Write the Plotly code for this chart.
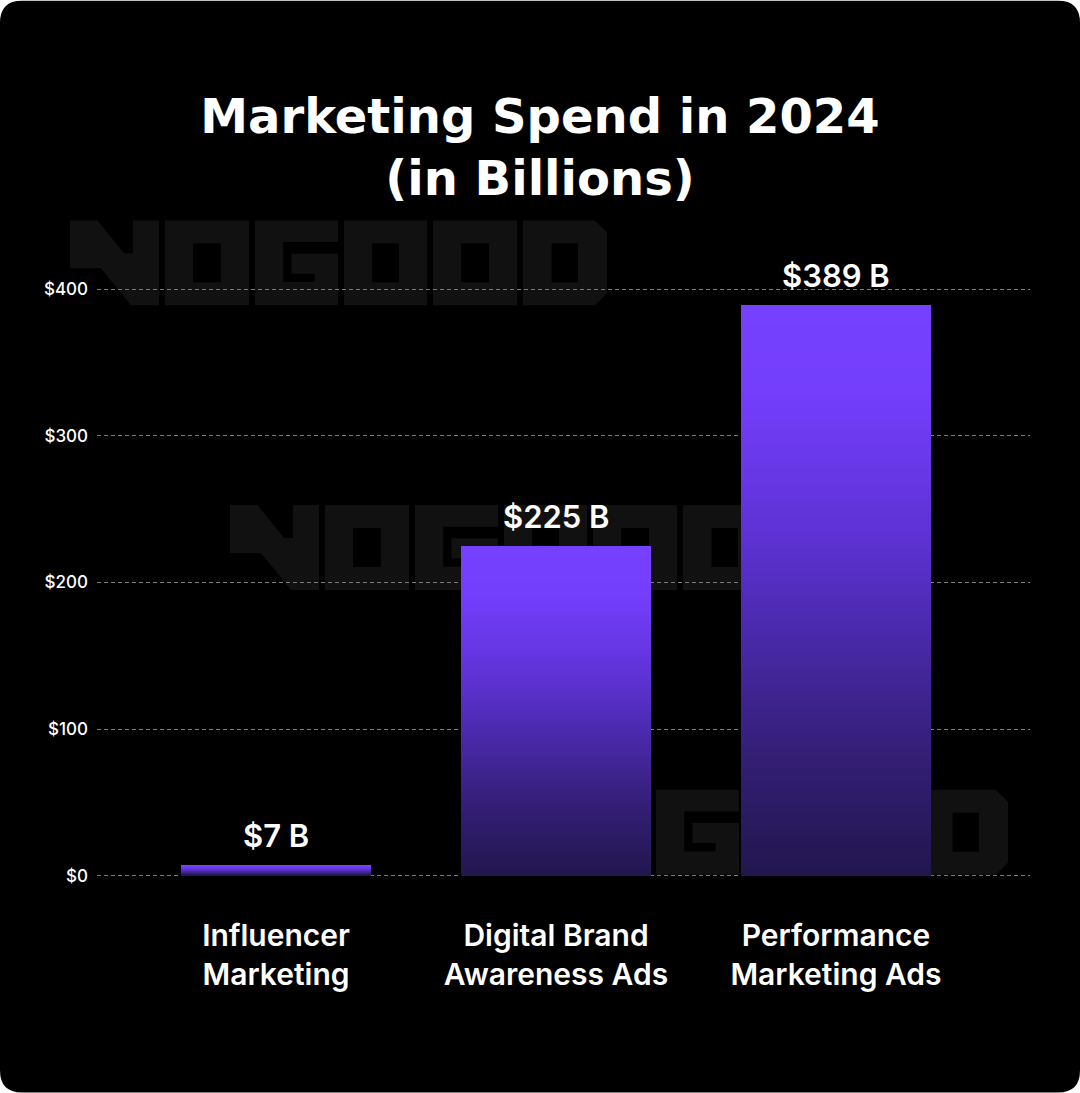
import plotly.graph_objects as go

# ---------------- data ----------------
categories = ["Influencer<br>Marketing", "Digital Brand<br>Awareness Ads", "Performance<br>Marketing Ads"]
values = [7, 225, 389]
value_labels = ["$7 B", "$225 B", "$389 B"]
y_tick_values = [0, 100, 200, 300, 400]
y_tick_labels = ["$0", "$100", "$200", "$300", "$400"]
title_lines = ["Marketing Spend in 2024", "(in Billions)"]

# ---------------- layout geometry ----------------
W, H = 1080, 1093
ML, MR = 97, 50
Y_MIN, Y_MAX = -5, 420
PX_PER_UNIT = 1.4675
ZERO_Y = 876
MT = ZERO_Y - Y_MAX * PX_PER_UNIT
MB = H - (ZERO_Y - Y_MIN * PX_PER_UNIT)
PW = W - ML - MR
PH = H - MT - MB
BAR_SPACING_PX = 280
FIRST_CENTER_PX = 276
X0 = -(FIRST_CENTER_PX - ML) / BAR_SPACING_PX
X1 = X0 + PW / BAR_SPACING_PX
BAR_WIDTH = 190 / BAR_SPACING_PX


def px(x):
    return (x - ML) / PW


def py(y):
    return 1 - (y - MT) / PH


# gradient stops: fraction from top of the bar -> rgb
STOPS = [
    (0.0, (118, 64, 255)),
    (0.15, (116, 62, 252)),
    (0.4, (93, 50, 212)),
    (0.6, (72, 40, 165)),
    (0.8, (50, 30, 115)),
    (1.0, (34, 22, 78)),
]


def grad(t):
    for (t0, c0), (t1, c1) in zip(STOPS[:-1], STOPS[1:]):
        if t <= t1:
            f = (t - t0) / (t1 - t0) if t1 > t0 else 0
            c = [round(a + (b - a) * f) for a, b in zip(c0, c1)]
            return f"rgb({c[0]},{c[1]},{c[2]})"
    c = STOPS[-1][1]
    return f"rgb({c[0]},{c[1]},{c[2]})"


xs = list(range(len(categories)))
fig = go.Figure()

N_LAYERS = 90
for k in range(N_LAYERS):
    frac = 1 - k / N_LAYERS
    fig.add_trace(go.Bar(
        x=xs,
        y=[v * frac for v in values],
        width=BAR_WIDTH,
        marker=dict(color=grad((k + 0.5) / N_LAYERS), line=dict(width=0)),
        hoverinfo="skip",
        showlegend=False,
    ))

# ---------------- decorative shapes (card + watermark logo) ----------------
shapes = []
r = 22
card = (
    f"M {px(r)},{py(0)} L {px(W - r)},{py(0)} Q {px(W)},{py(0)} {px(W)},{py(r)} "
    f"L {px(W)},{py(H - r)} Q {px(W)},{py(H)} {px(W - r)},{py(H)} "
    f"L {px(r)},{py(H)} Q {px(0)},{py(H)} {px(0)},{py(H - r)} "
    f"L {px(0)},{py(r)} Q {px(0)},{py(0)} {px(r)},{py(0)} Z"
)
shapes.append(dict(type="path", xref="paper", yref="paper", path=card,
                   fillcolor="#000000", line=dict(width=0), layer="below"))

LETTERS = [
    (0, [[(0, 0), (27.5, 0), (54, 33), (63, 33), (63, 0), (89, 0), (89, 85), (61, 85), (31, 48), (0, 48)]]),
    (95, [[(0, 0), (84, 0), (84, 85), (0, 85)], [(28, 23), (56, 23), (56, 62), (28, 62)]]),
    (185, [[(0, 0), (83, 0), (83, 21.7), (28.2, 21.7), (28.2, 61.7), (59.6, 61.7), (59.6, 53.3),
            (36.4, 53.3), (36.4, 33.3), (83, 33.3), (83, 85), (0, 85)]]),
    (274, [[(0, 0), (83, 0), (83, 85), (0, 85)], [(28, 23), (55, 23), (55, 62), (28, 62)]]),
    (363, [[(0, 0), (84, 0), (84, 85), (0, 85)], [(28, 23), (56, 23), (56, 62), (28, 62)]]),
    (453, [[(0, 0), (72, 0), (84, 12), (84, 73), (72, 85), (0, 85)], [(28.6, 23), (55, 23), (55, 62), (28.6, 62)]]),
]
WATERMARKS = [(70, 220), (230, 505), (471, 790)]
for ox, oy in WATERMARKS:
    for lx, polys in LETTERS:
        parts = []
        for poly in polys:
            pts = [f"{px(ox + lx + a):.5f},{py(oy + b):.5f}" for a, b in poly]
            parts.append("M " + " L ".join(pts) + " Z")
        shapes.append(dict(type="path", xref="paper", yref="paper", path=" ".join(parts),
                           fillcolor="#111111", fillrule="evenodd", line=dict(width=0), layer="below"))

# ---------------- annotations ----------------
annotations = []
for i, (v, lab) in enumerate(zip(values, value_labels)):
    annotations.append(dict(
        x=i, y=v, xref="x", yref="y", text=lab, showarrow=False,
        yanchor="bottom", yshift=9,
        font=dict(family="Inter", size=31, color="#ffffff", weight=600),
    ))

fig.update_layout(
    template="none",
    width=W, height=H, autosize=False,
    margin=dict(l=ML, r=MR, t=MT, b=MB, pad=0),
    paper_bgcolor="#ffffff",
    plot_bgcolor="rgba(0,0,0,0)",
    barmode="overlay",
    bargap=0,
    title=dict(
        text="<br>".join(title_lines), x=0.5, xref="container", xanchor="center",
        y=1 - 133 / H, yref="container", yanchor="middle",
        font=dict(family="DejaVu Sans", size=48, color="#ffffff", weight="bold"),
    ),
    xaxis=dict(
        range=[X0, X1], tickmode="array", tickvals=xs, ticktext=categories,
        showgrid=False, zeroline=False, showline=False, ticks="",
        tickfont=dict(family="Inter", size=30, color="#ffffff", weight=600),
        ticklabelstandoff=32, automargin=False, fixedrange=True,
    ),
    yaxis=dict(
        range=[Y_MIN, Y_MAX], tickmode="array", tickvals=y_tick_values, ticktext=y_tick_labels,
        showgrid=True, gridcolor="#7a7a7a", gridwidth=1, griddash="4px,3px",
        zeroline=False, showline=False, ticks="",
        tickfont=dict(family="Inter", size=17, color="#ffffff", weight=500),
        ticklabelstandoff=8, automargin=False, fixedrange=True,
    ),
    shapes=shapes,
    annotations=annotations,
    showlegend=False,
)

fig.write_html("out.html", config={"displayModeBar": False})
